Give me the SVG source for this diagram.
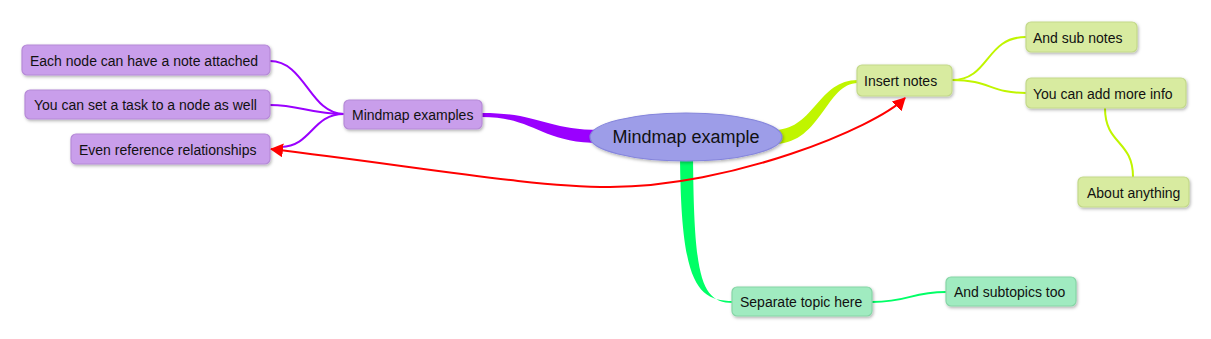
<svg xmlns="http://www.w3.org/2000/svg" width="1211" height="339" viewBox="0 0 1211 339">
<style>
text{font-family:"Liberation Sans",Arial,sans-serif;font-size:14px;fill:#111}
.n{stroke-width:1.2}
.p{fill:#c99eeb;stroke:#b68ad8}
.y{fill:#d8eba0;stroke:#c3d98a}
.g{fill:#a0ebc0;stroke:#86d6a6}
.lp{fill:none;stroke:#9a00ff;stroke-width:2}
.ly{fill:none;stroke:#c0f500;stroke-width:2}
.lg{fill:none;stroke:#00ff66;stroke-width:2}
</style>
<defs>
<filter id="sh" x="-20%" y="-30%" width="140%" height="170%">
<feDropShadow dx="1" dy="1.5" stdDeviation="1.5" flood-color="#000" flood-opacity="0.3"/>
</filter>
<marker id="ar" viewBox="0 0 13 14" refX="12" refY="7" markerWidth="13" markerHeight="14" markerUnits="userSpaceOnUse" orient="auto-start-reverse">
<path d="M0,0 L13,7 L0,14 Z" fill="#ff0000"/>
</marker>
</defs>
<g id="connectors">
<path d="M482,113 C540,113 545,130 600,130 L600,143 C540,143 535,117 482,117 Z" fill="#9a00ff"/>
<path d="M776,130 C815,128 818,80 858,80 L858,83 C826,83 822,142 776,144 Z" fill="#c0f500"/>
<path d="M680,155 C681,282 696,301 733,301 L733,303 C700,303 694,275 693,155 Z" fill="#00ff66"/>
<path class="lp" d="M344,114 C310,114 305,61 270,61"/>
<path class="lp" d="M344,114 C310,114 300,105 270,105"/>
<path class="lp" d="M344,114 C312,114 312,146 281,147"/>
<path class="ly" d="M952,80 C990,80 985,37 1026,37"/>
<path class="ly" d="M952,80 C990,80 990,93 1026,93"/>
<path class="ly" d="M1105,108 C1105,145 1133,140 1133,177"/>
<path class="lg" d="M872,302 C910,302 910,292 946,292"/>
</g>
<g id="center">
<ellipse cx="686" cy="137" rx="96" ry="24" fill="#9d9de8" stroke="#8585dc" stroke-width="1.2" filter="url(#sh)"/>
<text x="686" y="143" text-anchor="middle" style="font-size:18px">Mindmap example</text>
</g>
<g id="n-examples"><rect class="n p" x="344" y="100" width="138" height="29" rx="5" filter="url(#sh)"/><text x="352" y="120">Mindmap examples</text></g>
<g id="n-note"><rect class="n p" x="22" y="45" width="248" height="30" rx="5" filter="url(#sh)"/><text x="30" y="66">Each node can have a note attached</text></g>
<g id="n-task"><rect class="n p" x="25" y="90" width="245" height="29" rx="5" filter="url(#sh)"/><text x="34" y="110">You can set a task to a node as well</text></g>
<g id="n-ref"><rect class="n p" x="71" y="134" width="199" height="30" rx="5" filter="url(#sh)"/><text x="79" y="155">Even reference relationships</text></g>
<g id="n-insert"><rect class="n y" x="857" y="65" width="95" height="31" rx="5" filter="url(#sh)"/><text x="864" y="86">Insert notes</text></g>
<g id="n-sub"><rect class="n y" x="1026" y="22" width="111" height="30" rx="5" filter="url(#sh)"/><text x="1033" y="43">And sub notes</text></g>
<g id="n-more"><rect class="n y" x="1026" y="78" width="160" height="30" rx="5" filter="url(#sh)"/><text x="1033" y="99">You can add more info</text></g>
<g id="n-about"><rect class="n y" x="1078" y="177" width="111" height="30" rx="5" filter="url(#sh)"/><text x="1087" y="198">About anything</text></g>
<g id="n-separate"><rect class="n g" x="732" y="287" width="140" height="29" rx="5" filter="url(#sh)"/><text x="740" y="307">Separate topic here</text></g>
<g id="n-subtopics"><rect class="n g" x="946" y="277" width="130" height="29" rx="5" filter="url(#sh)"/><text x="954" y="297">And subtopics too</text></g>
<g id="relationship">
<path d="M905,98 C875,128 730,187 610,187 C530,187 421,167 271,149" fill="none" stroke="#ff0000" stroke-width="2" marker-start="url(#ar)" marker-end="url(#ar)"/>
</g>
</svg>
